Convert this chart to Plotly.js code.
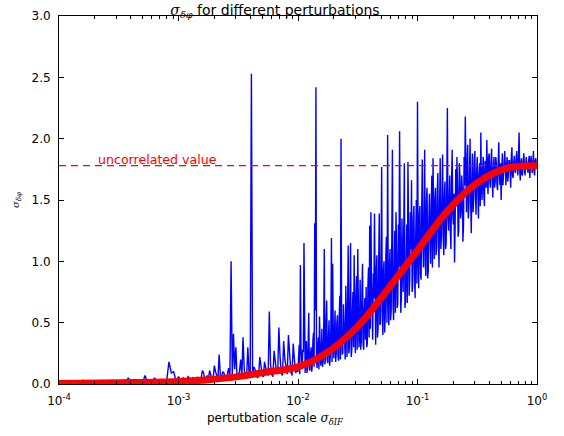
<!DOCTYPE html>
<html>
<head>
<meta charset="utf-8">
<script src="https://cdn.plot.ly/plotly-3.0.1.min.js"></script>
<style>html,body{margin:0;padding:0;background:#fff;}</style>
</head>
<body>
<div id="chart" style="width:564px;height:436px;"></div>
<script>
// ---- data (x given as log10 exponents of the perturbation scale) ----
const blueExp1 = [-4.00,-3.98,-3.96,-3.94,-3.92,-3.90,-3.88,-3.86,-3.84,-3.82,-3.80,-3.78,-3.76,-3.74,-3.72,-3.70,-3.68,-3.66,-3.64,-3.62,-3.60,-3.58,-3.56,-3.54,-3.52,-3.50,-3.48,-3.46,-3.44,-3.42,-3.40,-3.38,-3.36,-3.34,-3.32,-3.30,-3.28,-3.26,-3.24,-3.22,-3.20,-3.18,-3.16,-3.14,-3.12,-3.10,-3.08,-3.06,-3.04,-3.02,-3.00];
const blueVal1 = [0.004,0.006,0.005,0.008,0.022,0.006,0.005,0.009,0.007,0.012,0.03,0.008,0.006,0.01,0.007,0.009,0.022,0.008,0.011,0.007,0.01,0.012,0.008,0.014,0.01,0.012,0.009,0.015,0.011,0.05,0.013,0.01,0.016,0.012,0.018,0.014,0.07,0.012,0.02,0.015,0.05,0.013,0.022,0.016,0.03,0.02,0.18,0.09,0.10,0.02,0.06];

const blueExp2 = [-2.98,-2.96,-2.94,-2.92,-2.90,-2.88,-2.86,-2.84,-2.82,-2.80,-2.78,-2.76,-2.74,-2.72,-2.70,-2.68,-2.66,-2.64,-2.62,-2.60,-2.58,-2.56,-2.54,-2.52,-2.50,-2.48,-2.46,-2.44,-2.42,-2.40,-2.39,-2.38,-2.36,-2.34,-2.32,-2.30,-2.28,-2.26,-2.24,-2.22,-2.20,-2.18,-2.16,-2.14,-2.12,-2.10,-2.08,-2.06,-2.04,-2.02];
const blueVal2 = [0.03,0.05,0.02,0.06,0.03,0.05,0.02,0.06,0.04,0.11,0.03,0.07,0.11,0.04,0.15,0.06,0.24,0.05,0.09,0.04,0.13,1.00,0.41,0.30,0.08,0.20,0.38,0.06,0.30,0.07,2.53,0.08,0.12,0.05,0.22,0.07,0.18,0.09,0.59,0.08,0.27,0.10,0.46,0.09,0.35,0.12,0.40,0.10,0.33,0.09];

const blueExp2b = [-2.99,-2.97,-2.95,-2.93,-2.91,-2.89,-2.87,-2.85,-2.83,-2.81,-2.79,-2.77,-2.75,-2.73,-2.71,-2.69,-2.67,-2.65,-2.63,-2.61,-2.59,-2.57,-2.55,-2.53,-2.51,-2.49,-2.47,-2.45,-2.43,-2.41,-2.37,-2.35,-2.33,-2.31,-2.29,-2.27,-2.25,-2.23,-2.21,-2.19,-2.17,-2.15,-2.13,-2.11,-2.09,-2.07,-2.05,-2.03,-2.01];
const blueVal2b = [0.04,0.02,0.04,0.03,0.05,0.02,0.04,0.03,0.02,0.05,0.09,0.04,0.03,0.08,0.05,0.10,0.04,0.07,0.10,0.05,0.08,0.05,0.07,0.12,0.05,0.10,0.06,0.12,0.05,0.09,0.14,0.08,0.06,0.15,0.06,0.13,0.07,0.16,0.06,0.18,0.08,0.22,0.07,0.20,0.08,0.24,0.07,0.20,0.11];

const blueExp3 = [
-2.00,-1.99,-1.98,-1.97,-1.96,-1.95,-1.94,-1.93,-1.92,-1.91,
-1.90,-1.89,-1.88,-1.87,-1.86,-1.85,-1.84,-1.83,-1.82,-1.81,
-1.80,-1.79,-1.78,-1.77,-1.76,-1.75,-1.74,-1.73,-1.72,-1.71,
-1.70,-1.69,-1.68,-1.67,-1.66,-1.65,-1.64,-1.63,-1.62,-1.61,
-1.60,-1.59,-1.58,-1.57,-1.56,-1.55,-1.54,-1.53,-1.52,-1.51,
-1.50,-1.49,-1.48,-1.47,-1.46,-1.45,-1.44,-1.43,-1.42,-1.41,
-1.40,-1.39,-1.38,-1.37,-1.36,-1.35,-1.34,-1.33,-1.32,-1.31,
-1.30,-1.29,-1.28,-1.27,-1.26,-1.25,-1.24,-1.23,-1.22,-1.21,
-1.20,-1.19,-1.18,-1.17,-1.16,-1.15,-1.14,-1.13,-1.12,-1.11,
-1.10,-1.09,-1.08,-1.07,-1.06,-1.05,-1.04,-1.03,-1.02,-1.01,
-1.00,-0.99,-0.98,-0.97,-0.96,-0.95,-0.94,-0.93,-0.92,-0.91,
-0.90,-0.89,-0.88,-0.87,-0.86,-0.85,-0.84,-0.83,-0.82,-0.81,
-0.80,-0.79,-0.78,-0.77,-0.76,-0.75,-0.74,-0.73,-0.72,-0.71,
-0.70,-0.69,-0.68,-0.67,-0.66,-0.65,-0.64,-0.63,-0.62,-0.61,
-0.60,-0.59,-0.58,-0.57,-0.56,-0.55,-0.54,-0.53,-0.52,-0.51,
-0.50,-0.49,-0.48,-0.47,-0.46,-0.45,-0.44,-0.43,-0.42,-0.41,
-0.40,-0.39,-0.38,-0.37,-0.36,-0.35,-0.34,-0.33,-0.32,-0.31,
-0.30,-0.29,-0.28,-0.27,-0.26,-0.25,-0.24,-0.23,-0.22,-0.21,
-0.20,-0.19,-0.18,-0.17,-0.16,-0.15,-0.14,-0.13,-0.12,-0.11,
-0.10,-0.09,-0.08,-0.07,-0.06,-0.05,-0.04,-0.03,-0.02,-0.01,
0.00];
const blueVal3 = [
0.10,0.32,0.97,0.12,0.28,1.15,0.09,0.35,0.14,0.58,
0.11,0.30,0.16,0.42,1.31,2.42,0.13,0.38,0.55,0.15,
0.45,0.18,1.10,0.20,0.68,0.17,0.52,0.22,1.19,0.98,
0.21,0.60,0.25,0.56,0.19,0.72,2.00,0.24,0.65,0.28,
0.80,0.22,1.13,0.30,1.15,0.27,0.75,1.05,0.25,0.88,
1.10,0.30,0.85,0.35,0.98,0.28,0.70,0.79,0.33,0.95,
1.29,1.40,0.40,0.90,1.39,0.32,1.05,0.45,1.39,0.50,
1.77,0.40,1.00,0.55,1.20,2.03,0.48,1.10,0.60,1.91,
0.52,1.25,1.40,0.62,1.30,2.06,0.58,1.35,0.75,1.80,
0.68,1.30,1.81,0.72,1.40,1.66,0.80,1.45,0.70,1.50,
2.30,0.78,1.45,0.85,1.83,0.95,1.91,0.88,1.60,0.92,
1.55,0.98,1.70,1.84,1.02,1.60,1.10,1.72,0.95,1.84,
1.20,1.87,1.05,1.65,1.15,2.25,1.25,1.70,1.10,1.91,
1.30,0.99,1.75,1.85,1.20,1.80,1.35,1.70,1.16,1.85,
2.18,1.40,1.95,1.45,2.00,1.23,1.88,1.50,1.90,1.38,
1.85,1.35,1.80,2.05,1.50,1.85,1.45,1.78,1.99,1.55,
1.88,1.60,1.92,1.52,1.85,1.65,1.80,1.58,1.97,1.62,
1.50,1.88,1.68,1.90,1.62,1.85,1.70,1.82,1.60,1.93,
1.68,1.86,1.72,1.90,1.70,2.05,1.66,1.84,1.72,1.88,
1.70,1.85,1.74,1.82,1.68,1.86,1.72,1.90,1.70,1.84,
1.76];

const blueExp3b = [
-1.995,-1.985,-1.975,-1.965,-1.955,-1.945,-1.935,-1.925,-1.915,-1.905,
-1.895,-1.885,-1.875,-1.865,-1.855,-1.845,-1.835,-1.825,-1.815,-1.805,
-1.795,-1.785,-1.775,-1.765,-1.755,-1.745,-1.735,-1.725,-1.715,-1.705,
-1.695,-1.685,-1.675,-1.665,-1.655,-1.645,-1.635,-1.625,-1.615,-1.605,
-1.595,-1.585,-1.575,-1.565,-1.555,-1.545,-1.535,-1.525,-1.515,-1.505,
-1.495,-1.485,-1.475,-1.465,-1.455,-1.445,-1.435,-1.425,-1.415,-1.405,
-1.395,-1.385,-1.375,-1.365,-1.355,-1.345,-1.335,-1.325,-1.315,-1.305,
-1.295,-1.285,-1.275,-1.265,-1.255,-1.245,-1.235,-1.225,-1.215,-1.205,
-1.195,-1.185,-1.175,-1.165,-1.155,-1.145,-1.135,-1.125,-1.115,-1.105,
-1.095,-1.085,-1.075,-1.065,-1.055,-1.045,-1.035,-1.025,-1.015,-1.005,
-0.995,-0.985,-0.975,-0.965,-0.955,-0.945,-0.935,-0.925,-0.915,-0.905,
-0.895,-0.885,-0.875,-0.865,-0.855,-0.845,-0.835,-0.825,-0.815,-0.805,
-0.795,-0.785,-0.775,-0.765,-0.755,-0.745,-0.735,-0.725,-0.715,-0.705,
-0.695,-0.685,-0.675,-0.665,-0.655,-0.645,-0.635,-0.625,-0.615,-0.605,
-0.595,-0.585,-0.575,-0.565,-0.555,-0.545,-0.535,-0.525,-0.515,-0.505,
-0.495,-0.485,-0.475,-0.465,-0.455,-0.445,-0.435,-0.425,-0.415,-0.405,
-0.395,-0.385,-0.375,-0.365,-0.355,-0.345,-0.335,-0.325,-0.315,-0.305,
-0.295,-0.285,-0.275,-0.265,-0.255,-0.245,-0.235,-0.225,-0.215,-0.205,
-0.195,-0.185,-0.175,-0.165,-0.155,-0.145,-0.135,-0.125,-0.115,-0.105,
-0.095,-0.085,-0.075,-0.065,-0.055,-0.045,-0.035,-0.025,-0.015,-0.005];
const blueVal3b = [
0.22,0.08,0.30,0.12,0.26,0.10,0.28,0.09,0.33,0.12,
0.25,0.10,0.36,0.14,0.60,0.18,0.30,0.12,0.34,0.20,
0.14,0.40,0.16,0.50,0.20,0.38,0.15,0.46,0.18,0.40,
0.42,0.18,0.50,0.22,0.55,0.20,0.45,0.25,0.52,0.20,
0.30,0.62,0.25,0.70,0.22,0.58,0.30,0.48,0.72,0.28,
0.66,0.40,0.28,0.75,0.32,0.62,0.36,0.30,0.80,0.38,
0.45,0.85,0.36,0.70,0.42,0.90,0.38,0.95,0.48,1.00,
0.62,0.92,0.42,1.05,0.50,0.80,0.95,0.52,1.20,0.66,
0.90,0.58,1.10,0.65,0.95,1.20,0.70,1.00,1.25,0.62,
0.95,0.66,1.30,0.85,1.10,0.75,1.35,0.90,1.20,0.82,
1.20,1.35,0.90,1.40,1.15,1.30,0.98,1.50,0.86,1.35,
1.20,1.45,0.95,1.30,1.50,1.05,1.55,1.20,1.45,1.10,
1.50,1.20,1.55,1.10,1.60,1.35,1.50,1.25,1.65,1.40,
1.55,1.30,1.45,1.60,1.25,1.70,1.40,1.58,1.30,1.62,
1.55,1.75,1.35,1.70,1.50,1.65,1.40,1.80,1.55,1.72,
1.60,1.70,1.45,1.62,1.75,1.55,1.82,1.60,1.70,1.85,
1.65,1.80,1.70,1.75,1.60,1.85,1.62,1.78,1.72,1.80,
1.72,1.62,1.80,1.70,1.78,1.65,1.82,1.75,1.86,1.70,
1.80,1.74,1.82,1.78,1.85,1.76,1.80,1.70,1.82,1.76,
1.78,1.80,1.72,1.86,1.75,1.80,1.78,1.74,1.82,1.78];

const redExp = [-4.00,-3.50,-3.00,-2.75,-2.50,-2.25,-2.00,-1.75,-1.50,-1.25,-1.00,-0.75,-0.50,-0.25,0.00];
const redVal = [0.005,0.01,0.02,0.035,0.06,0.10,0.14,0.26,0.47,0.77,1.09,1.41,1.64,1.76,1.78];

const uncorrelatedValue = 1.78;
const xRangeExp = [-4, 0];
const xTickVals = [1e-4, 1e-3, 1e-2, 1e-1, 1];
const xTickText = ['10<sup>-4</sup>','10<sup>-3</sup>','10<sup>-2</sup>','10<sup>-1</sup>','10<sup>0</sup>'];
const xMinorTickVals = [2e-4,3e-4,4e-4,5e-4,6e-4,7e-4,8e-4,9e-4,
                        2e-3,3e-3,4e-3,5e-3,6e-3,7e-3,8e-3,9e-3,
                        2e-2,3e-2,4e-2,5e-2,6e-2,7e-2,8e-2,9e-2,
                        0.2,0.3,0.4,0.5,0.6,0.7,0.8,0.9];
const yTickVals = [0, 0.5, 1.0, 1.5, 2.0, 2.5, 3.0];

// ---- build ----
const pairs = [];
[[blueExp1, blueVal1], [blueExp2, blueVal2], [blueExp2b, blueVal2b], [blueExp3, blueVal3], [blueExp3b, blueVal3b]]
  .forEach(([ex, va]) => { const n = Math.min(ex.length, va.length); for (let i = 0; i < n; i++) pairs.push([ex[i], va[i]]); });
pairs.sort((a, b) => a[0] - b[0]);
const toX = e => Math.pow(10, e);

const traces = [
  {x: pairs.map(p => toX(p[0])), y: pairs.map(p => p[1]), type: 'scatter', mode: 'lines',
   line: {color: '#0000ff', width: 1.4}, hoverinfo: 'skip'},
  {x: xRangeExp.map(toX), y: [uncorrelatedValue, uncorrelatedValue], type: 'scatter', mode: 'lines',
   line: {color: '#ff0000', width: 1.3, dash: '7px,5px'}, hoverinfo: 'skip'},
  {x: redExp.map(toX), y: redVal, type: 'scatter', mode: 'lines',
   line: {color: '#ff0000', width: 7, shape: 'spline', smoothing: 1}, hoverinfo: 'skip'}
];

const layout = {
  width: 564, height: 436,
  margin: {l: 59, r: 27, t: 16, b: 52},
  paper_bgcolor: '#fff', plot_bgcolor: '#fff',
  showlegend: false,
  font: {family: 'DejaVu Sans', size: 12, color: '#000'},
  title: {text: '<span style="font-family:DejaVu Serif"><i>σ</i><sub><i>δφ</i></sub></span> for different perturbations',
          font: {family: 'DejaVu Sans', size: 14, color: '#000'},
          x: 275 / 564, xref: 'container', xanchor: 'center', y: 1, yref: 'paper', yanchor: 'bottom', pad: {b: 1}},
  xaxis: {type: 'log', range: xRangeExp, tickmode: 'array', tickvals: xTickVals, ticktext: xTickText,
          ticks: 'inside', ticklen: 5, tickcolor: '#000', showline: true, linecolor: '#000', linewidth: 1,
          mirror: 'allticks', showgrid: false, zeroline: false, ticklabelstandoff: 6,
          minor: {tickmode: 'array', tickvals: xMinorTickVals, ticks: 'inside', ticklen: 3, tickcolor: '#000', showgrid: false},
          tickfont: {family: 'DejaVu Sans', size: 12, color: '#000'}},
  yaxis: {range: [0, 3], tickmode: 'array', tickvals: yTickVals, tickformat: '.1f',
          ticks: 'inside', ticklen: 5, tickcolor: '#000', showline: true, linecolor: '#000', linewidth: 1,
          mirror: 'allticks', showgrid: false, zeroline: false, ticklabelstandoff: 5,
          tickfont: {family: 'DejaVu Sans', size: 12, color: '#000'},
          title: {text: '<span style="font-family:DejaVu Serif"><i>σ</i><sub><i>δφ</i></sub></span>',
                  font: {size: 10, color: '#000'}, standoff: 10}},
  annotations: [
    {x: -3.69, y: uncorrelatedValue, xref: 'x', yref: 'y', xanchor: 'left', yanchor: 'bottom',
     yshift: -3, showarrow: false, text: 'uncorrelated value',
     font: {family: 'DejaVu Sans', size: 12.6, color: '#ff0000'}},
    {x: (275.5 - 59) / 478, y: -35 / 368, xref: 'paper', yref: 'paper', xanchor: 'center', yanchor: 'middle',
     showarrow: false,
     text: 'pertutbation scale <span style="font-family:DejaVu Serif"><i>σ</i><sub><i>δIF</i></sub></span>',
     font: {family: 'DejaVu Sans', size: 12, color: '#000'}}
  ]
};

Plotly.newPlot('chart', traces, layout, {displayModeBar: false, staticPlot: true});
</script>
</body>
</html>
